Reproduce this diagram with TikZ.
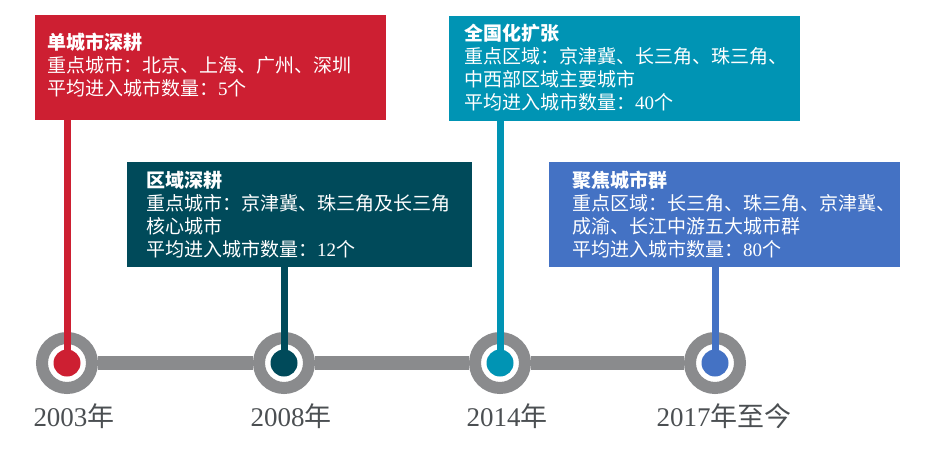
\documentclass[tikz,border=0pt]{standalone}
\usepackage{fontspec}
\setmainfont{Liberation Serif}
\newfontfamily\cjk{Noto Sans CJK SC}
\newfontfamily\latin{Liberation Serif}
\usetikzlibrary{positioning}

\definecolor{stagered}{HTML}{CD1F32}
\definecolor{stagecyan}{HTML}{0094B4}
\definecolor{stageteal}{HTML}{004A5A}
\definecolor{stageblue}{HTML}{4472C4}
\definecolor{linegray}{HTML}{8A8B8D}
\definecolor{yeargray}{HTML}{4B4F52}

\tikzset{
  stagebox/.style={rectangle, fill=#1, minimum width=351pt, minimum height=105pt, inner sep=0pt, anchor=north west},
  stagetext/.style={anchor=west, align=left, inner sep=0pt, text=white, font=\cjk\fontsize{19}{23}\selectfont},
  ring/.style={circle, draw=linegray, line width=12pt, fill=white, minimum size=50pt, inner sep=0pt},
  dot/.style={circle, fill=#1, minimum size=27pt, inner sep=0pt},
  stem/.style={draw=#1, line width=7pt},
  bar/.style={draw=linegray, line width=14pt},
  year/.style={anchor=base, inner sep=0pt, text=yeargray, font=\cjk\fontsize{27}{30}\selectfont}
}

\begin{document}
\begin{tikzpicture}[x=1pt,y=-1pt]
\useasboundingbox (0,0) rectangle (935,458);
% stage boxes
\node[stagebox=stagered] (b1) at (35,15) {};
\node[stagebox=stageteal, minimum width=345pt] (b2) at (127,162) {};
\node[stagebox=stagecyan] (b3) at (449,16) {};
\node[stagebox=stageblue] (b4) at (549,162) {};
\node[stagetext] (t1) at ([xshift=12pt,yshift=3pt]b1.west) {{\bfseries 单城市深耕}\\重点城市：北京、上海、广州、深圳\\平均进入城市数量：{\latin 5}个};
\node[stagetext] (t2) at ([xshift=19pt]b2.west) {{\bfseries 区域深耕}\\重点城市：京津冀、珠三角及长三角\\核心城市\\平均进入城市数量：{\latin 12}个};
\node[stagetext] (t3) at ([xshift=15pt,yshift=1pt]b3.west) {{\bfseries 全国化扩张}\\重点区域：京津冀、长三角、珠三角、\\中西部区域主要城市\\平均进入城市数量：{\latin 40}个};
\node[stagetext] (t4) at ([xshift=23pt]b4.west) {{\bfseries 聚焦城市群}\\重点区域：长三角、珠三角、京津冀、\\成渝、长江中游五大城市群\\平均进入城市数量：{\latin 80}个};
% timeline
\node[ring] (c1) at (67,363) {};
\node[ring] (c2) at (284,363) {};
\node[ring] (c3) at (500,363) {};
\node[ring] (c4) at (715,363) {};
\foreach \a/\b in {c1/c2,c2/c3,c3/c4}
  \draw[bar] (\a.east) -- (\b.west);
\draw[stem=stagered] (c1.center) -- (c1.center |- b1.south);
\draw[stem=stageteal] (c2.center) -- (c2.center |- b2.south);
\draw[stem=stagecyan] (c3.center) -- (c3.center |- b3.south);
\draw[stem=stageblue] (c4.center) -- (c4.center |- b4.south);
\node[dot=stagered] (d1) at (c1) {};
\node[dot=stageteal] (d2) at (c2) {};
\node[dot=stagecyan] (d3) at (c3) {};
\node[dot=stageblue] (d4) at (c4) {};
% years
\node[year] (y1) at ([xshift=7pt,yshift=-63pt]c1.center) {{\latin 2003}年};
\node[year] (y2) at ([xshift=7pt,yshift=-63pt]c2.center) {{\latin 2008}年};
\node[year] (y3) at ([xshift=7pt,yshift=-63pt]c3.center) {{\latin 2014}年};
\node[year] (y4) at ([xshift=9pt,yshift=-63pt]c4.center) {{\latin 2017}年至今};
\end{tikzpicture}
\end{document}
